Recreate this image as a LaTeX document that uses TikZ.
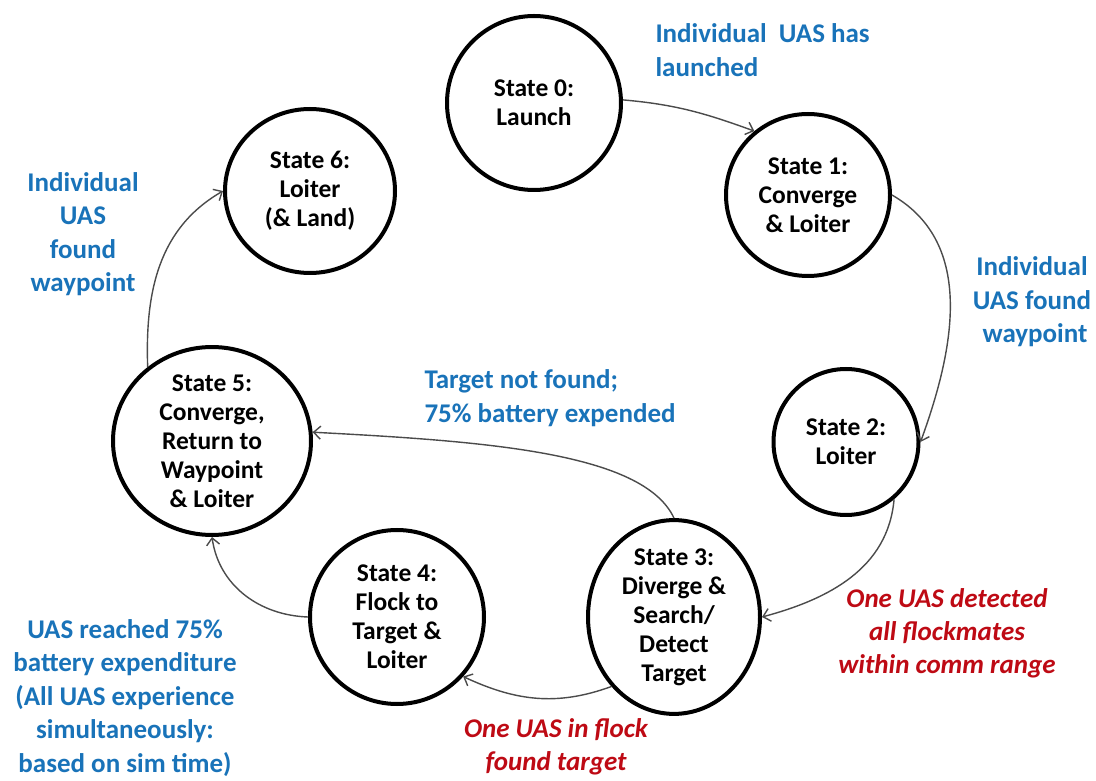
\documentclass[tikz,border=0pt]{standalone}
\usepackage{fontspec}
\setmainfont{Carlito}
\usetikzlibrary{arrows.meta,shapes.geometric}
\definecolor{lblblue}{RGB}{25,115,185}
\definecolor{lblred}{RGB}{190,10,20}
\definecolor{edgegray}{RGB}{75,75,75}
\begin{document}
\begin{tikzpicture}[x=1pt,y=1pt,
 statenode/.style={ellipse,draw=black,line width=4pt,inner sep=0pt,align=center,
   font=\fontsize{25.5}{29}\selectfont\bfseries},
 bluelbl/.style={text=lblblue,font=\fontsize{27}{33.5}\selectfont\bfseries},
 redlbl/.style={text=lblred,align=center,font=\fontsize{27}{33}\selectfont\bfseries\itshape},
 conn/.style={draw=edgegray,line width=1.4pt,-{Straight Barb[length=7pt,width=13pt]}}]
\useasboundingbox[fill=white] (0,0) rectangle (1096,780);
% states
\node[statenode,minimum width=174pt,minimum height=174pt] (s0) at (534,677) {State 0:\\Launch};
\node[statenode,minimum width=164pt,minimum height=162pt] (s1) at (808,585) {State 1:\\Converge\\\& Loiter};
\node[statenode,minimum width=145pt,minimum height=146pt] (s2) at (846,338) {State 2:\\Loiter};
\node[statenode,minimum width=172pt,minimum height=174pt] (s3) at (674,163) {State 3:\\Diverge \&\\Search/\\Detect\\Target};
\node[statenode,minimum width=174pt,minimum height=174pt] (s4) at (397,163) {State 4:\\Flock to\\Target \&\\Loiter};
\node[statenode,minimum width=198pt,minimum height=174pt] (s5) at (212,339) {State 5:\\Converge,\\Return to\\Waypoint\\\& Loiter};
\node[statenode,minimum width=170pt,minimum height=164pt] (s6) at (310,589) {State 6:\\Loiter\\(\& Land)};
% labels
\node[bluelbl,align=left,anchor=west] (l01) at (652,730) {Individual\ \ UAS has\\launched};
\node[bluelbl,align=center] (l12) at (1032,478) {Individual\\UAS found\\\ waypoint};
\node[bluelbl,align=left,anchor=west] (l35) at (421,382) {Target not found;\\75\% battery expended};
\node[redlbl] (l23) at (947,147) {One UAS detected\\all flockmates\\within comm range};
\node[redlbl] (l34) at (556,33) {One UAS in flock\\found target};
\node[bluelbl,align=center] (l45) at (125,82) {UAS reached\ 75\%\\battery expenditure\\(All UAS experience\\simultaneously:\\based on sim time)};
\node[bluelbl,align=center] (l56) at (83,546) {Individual\\UAS\\found\\waypoint};
% connectors
\draw[conn] (s0.2) to[out=-5,in=160] (s1.130);
\draw[conn] (s1.east) to[out=-30,in=70] (s2.east);
\draw[conn] (s2.-50) to[out=-95,in=15] (s3.east);
\draw[conn] (s3.-132) to[out=-160,in=-25] (s4.-42);
\draw[conn] (s4.west) to[out=178,in=-82] (s5.south);
\draw[conn] (s3.north) to[out=115,in=-3,out looseness=0.5,in looseness=1.2] (s5.5);
\draw[conn] (s5.131) to[out=92,in=210] (s6.west);
\end{tikzpicture}
\end{document}
